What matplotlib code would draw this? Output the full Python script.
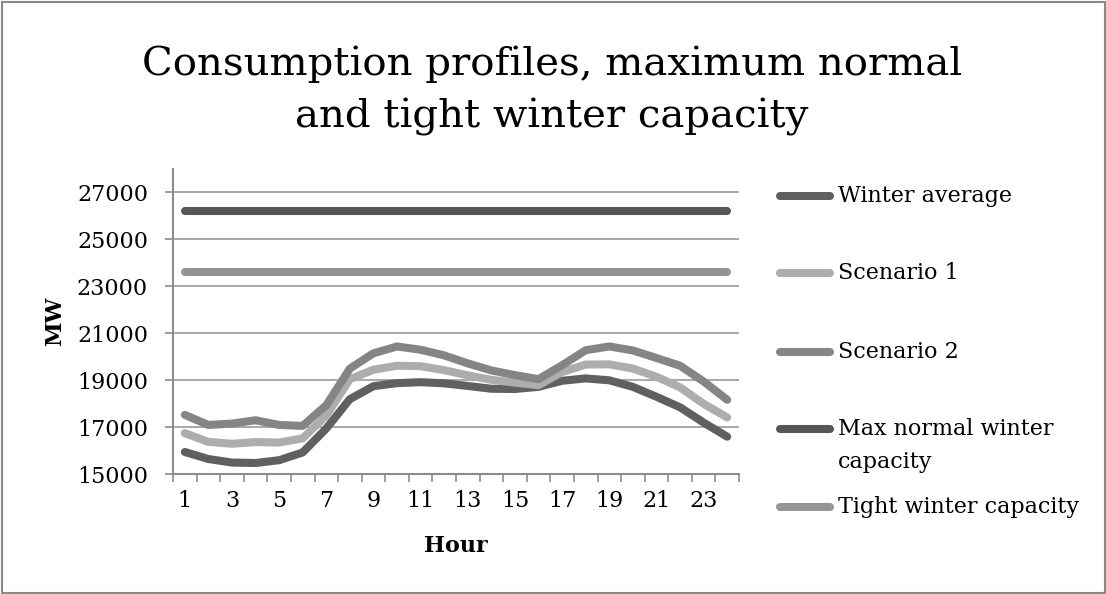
import numpy as np
import matplotlib
matplotlib.use("Agg")
import matplotlib.pyplot as plt
from matplotlib.lines import Line2D
from matplotlib.patches import Rectangle

plt.rcParams['font.family'] = ['DejaVu Serif']

# ---- data ----
hours = list(range(1, 25))
winter_average = [15950, 15650, 15500, 15480, 15600, 15930, 16950, 18200, 18750, 18880,
                  18920, 18870, 18760, 18640, 18630, 18720, 18980, 19080, 19000, 18720,
                  18300, 17850, 17200, 16600]
scenario_1 = [16750, 16380, 16300, 16370, 16350, 16530, 17500, 19050, 19450, 19620,
              19600, 19430, 19210, 19020, 18900, 18790, 19350, 19670, 19680, 19500,
              19150, 18700, 18000, 17420]
scenario_2 = [17530, 17100, 17160, 17300, 17100, 17060, 17940, 19500, 20150, 20440,
              20300, 20060, 19720, 19420, 19220, 19050, 19640, 20280, 20440, 20270,
              19950, 19620, 18950, 18170]
max_normal_capacity = 26200
tight_capacity = 23600
series_names = ["Winter average", "Scenario 1", "Scenario 2",
                "Max normal winter\ncapacity", "Tight winter capacity"]
x_tick_labels = [str(h) for h in range(1, 25, 2)]
y_ticks = [15000, 17000, 19000, 21000, 23000, 25000, 27000]

colors = ["#606060", "#adadad", "#858585", "#565656", "#959595"]

W, H = 1106, 594
fig = plt.figure(figsize=(W / 100, H / 100), dpi=100)
fig.patch.set_facecolor("white")

ax_l, ax_r, ax_t, ax_b = 173, 739, 168.8, 474.3
ax = fig.add_axes([ax_l / W, 1 - ax_b / H, (ax_r - ax_l) / W, (ax_b - ax_t) / H])

all_series = [
    winter_average,
    scenario_1,
    scenario_2,
    [max_normal_capacity] * len(hours),
    [tight_capacity] * len(hours),
]
lw = 5.8
for vals, c in zip(all_series, colors):
    ax.plot(hours, vals, color=c, lw=lw, solid_capstyle="round",
            solid_joinstyle="round", zorder=3)

ax.set_xlim(0.5, 24.5)
ax.set_ylim(15000, 28000)
ax.set_yticks(y_ticks)
ax.set_yticklabels([str(v) for v in y_ticks])
ax.set_xticks(list(range(1, 25, 2)))
ax.set_xticklabels(x_tick_labels)
ax.set_xticks([h + 0.5 for h in range(0, 25)], minor=True)
ax.tick_params(axis="x", which="major", length=0, pad=11, labelsize=16)
ax.tick_params(axis="x", which="minor", length=6, width=1.2, color="#8c8c8c", direction="out")
ax.tick_params(axis="y", which="major", length=6, width=1.2, color="#8c8c8c", pad=12, labelsize=16)

ax.grid(axis="y", color="#9a9a9a", lw=1.2, zorder=0)
ax.set_axisbelow(True)
for s in ["top", "right"]:
    ax.spines[s].set_visible(False)
for s in ["left", "bottom"]:
    ax.spines[s].set_color("#8c8c8c")
    ax.spines[s].set_linewidth(1.5)

ax.set_ylabel("MW", fontsize=16, fontweight="bold", labelpad=8)
ax.set_xlabel("Hour", fontsize=16, fontweight="bold", labelpad=17)

fig.text(552 / W, 1 - 91 / H, "Consumption profiles, maximum normal\nand tight winter capacity",
         ha="center", va="center", fontsize=29, linespacing=1.5)

# legend (manual, Excel style)
leg_y = [195.7, 273, 351.7, 429, 507]
for name, c, yy in zip(series_names, colors, leg_y):
    fy = 1 - yy / H
    fig.add_artist(Line2D([780 / W, 830 / W], [fy, fy], color=c, lw=lw,
                          solid_capstyle="round", transform=fig.transFigure))
    lines = name.split("\n")
    for k, ln in enumerate(lines):
        fig.text(838 / W, 1 - (yy + k * 33) / H, ln, ha="left", va="center", fontsize=16)

fig.add_artist(Rectangle((1.5 / W, 1.5 / H), (W - 3) / W, (H - 3) / H, transform=fig.transFigure,
                         fill=False, ec="#8a8a8a", lw=1.5))

fig.savefig("out.png", dpi=100)
